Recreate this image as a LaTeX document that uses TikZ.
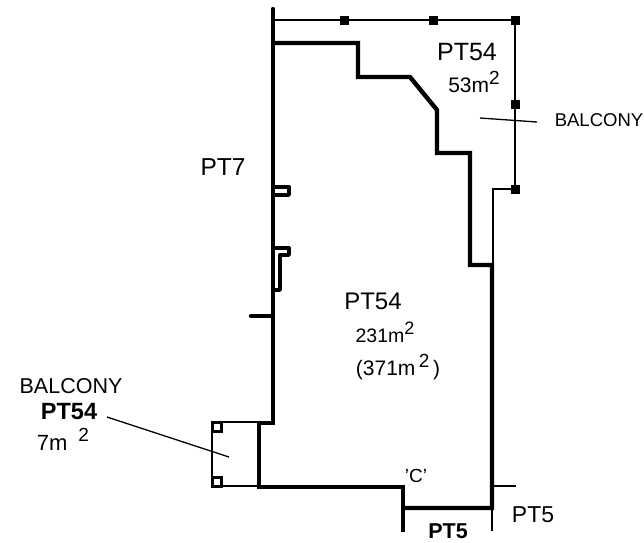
\documentclass[tikz,border=0pt]{standalone}
\usepackage{fontspec}
\setmainfont{Liberation Sans}
\newcommand{\fs}[1]{\fontsize{#1}{#1}\selectfont}
\newcommand{\sq}[2]{\raisebox{#1}{\fs{#2}2}}
\tikzset{
  thick wall/.style={line width=4.4pt,line join=miter},
  mid wall/.style={line width=3.4pt,line join=round},
  thin wall/.style={line width=2pt},
  leader/.style={line width=1.3pt},
  post/.style={draw,fill=black,minimum size=7.5pt,inner sep=0pt,line width=0.5pt},
  hollow post/.style={draw,line width=2.6pt,minimum size=9pt,inner sep=0pt},
  lab/.style={inner sep=0pt,anchor=center},
}
\begin{document}
\begin{tikzpicture}[x=1pt,y=-1pt]
\useasboundingbox (0,0) rectangle (644,542);
% balcony top right
\node[post] (p1) at (344,20) {};
\node[post] (p2) at (433,20) {};
\node[post] (p3) at (515,20) {};
\node[post] (p4) at (515,104) {};
\node[post] (p5) at (515,189) {};
\coordinate (wt) at (273,20);
\draw[thin wall] (wt) -- (p1) -- (p2) -- (p3) -- (p4) -- (p5) -- (493,189) -- (493,265);
% main wall
\draw[thick wall,line cap=round] (273,9) -- (273,423) -- (259,423);
\draw[thick wall] (273,43) -- (358,43) -- (358,77) -- (410,77) -- (437,110) -- (437,153) -- (470,153) -- (470,265) -- (492,265) -- (492,508) -- (403,508);
% niches
\draw[mid wall] (273,187) -- (289,187) -- (289,195) -- (273,195);
\draw[mid wall] (273,248) -- (289,248) -- (289,255) -- (280,255) -- (280,290) -- (273,290);
\draw[thick wall,line cap=round] (251,316) -- (273,316);
% lower left balcony
\draw[thin wall] (259,422) -- (212,422) -- (212,486) -- (259,486);
\node[hollow post] (h1) at (217,427) {};
\node[hollow post] (h2) at (217,482) {};
\draw[thick wall] (259,423) -- (259,488);
\draw[thick wall] (257,487) -- (403,487) -- (403,532);
% thin extensions
\draw[thin wall] (492,508) -- (492,531);
\draw[thin wall] (492,486) -- (516,486);
% leaders
\coordinate (la1) at (480,118);
\coordinate (la2) at (537,122);
\draw[leader] (la1) -- (la2);
\coordinate (lb1) at (107,417);
\coordinate (lb2) at (229,457);
\draw[leader] (lb1) -- (lb2);
% labels
\node[lab,font=\fs{25}] (t1) at (467,52) {PT54};
\node[lab,font=\fs{21}] (t2) at (474,82) {53m\sq{0.42em}{19}};
\node[lab,font=\fs{18.5}] (t3) at (599,120) {BALCONY};
\node[lab,font=\fs{24.5}] (t4) at (223,167) {PT7};
\node[lab,font=\fs{24}] (t5) at (373,301) {PT54};
\node[lab,font=\fs{19.5}] (t6) at (385,332) {231m\sq{0.42em}{18}};
\node[lab,font=\fs{21}] (t7) at (398,367) {(371m\,\sq{0.42em}{19}\,)};
\node[lab,font=\fs{21.5}] (t8) at (71,386) {BALCONY};
\node[lab,font=\fs{23.5}] (t9) at (69,412) {\textbf{PT54}};
\node[lab,font=\fs{22}] (t10) at (63,439) {7m\hspace{0.5em}\sq{0.42em}{19}};
\node[lab,font=\fs{19}] (t11) at (416,476) {'C'};
\node[lab,font=\fs{21.5}] (t12) at (448,531) {\textbf{PT5}};
\node[lab,font=\fs{23}] (t13) at (533,515) {PT5};
\end{tikzpicture}
\end{document}
